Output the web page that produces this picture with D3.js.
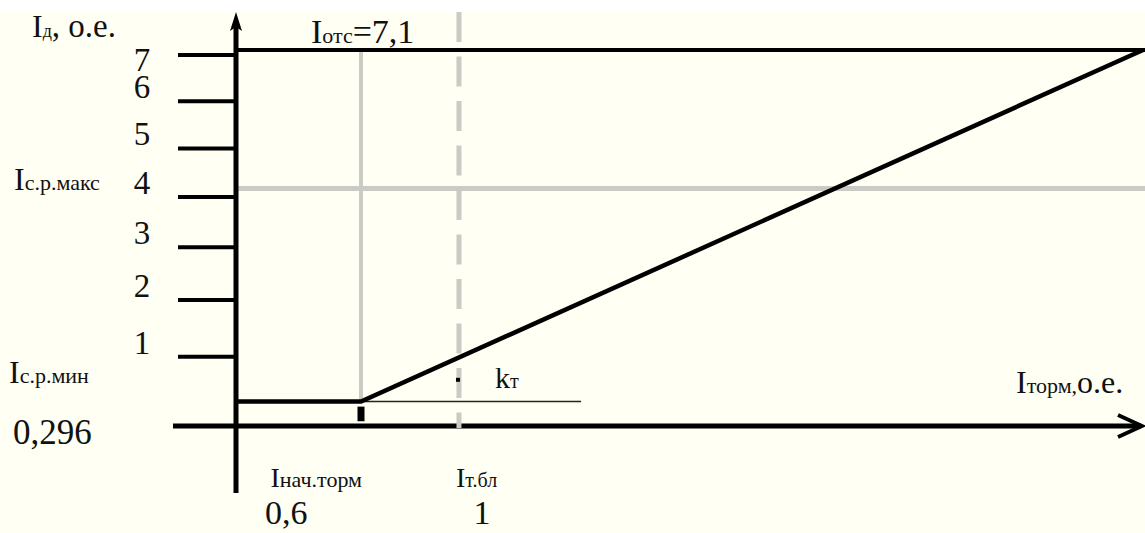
<!DOCTYPE html>
<html>
<head>
<meta charset="utf-8">
<script src="https://cdn.jsdelivr.net/npm/d3@7"></script>
<style>
  html, body { margin: 0; padding: 0; background: #ffffff; }
  svg { display: block; }
  text { font-family: "Liberation Serif", "Times New Roman", serif; fill: #111; }
</style>
</head>
<body>
<svg id="chart" width="1145" height="533"></svg>
<script>
// Braking characteristic of a differential protection: Iд versus Iторм (per unit)
const yTickValues = [1, 2, 3, 4, 5, 6, 7];
const yTickLabels = ["1", "2", "3", "4", "5", "6", "7"];
const iOts = 7.1;        // cut-off (instantaneous) current
const iSrMax = 4.16;     // maximum operate current
const iSrMin = 0.296;    // minimum operate current
const iNachTorm = 0.6;   // start of braking
const iTBl = 1;          // blocking braking current
const xEnd = 3.45;       // braking current where the slope reaches Iотс
const kRefEnd = 1.47;    // end of the horizontal reference line of the kт angle
const characteristic = [[0, iSrMin], [iNachTorm, iSrMin], [xEnd, iOts]];
const cornerDrop = [0.226, 0.044];   // short black stub under the knee
const angleMark = [iTBl, 0.62];      // dot marking the kт angle

const W = 1145, H = 533;
const svg = d3.select("#chart");

// paper background (the top strip stays white)
svg.append("rect").attr("x", 0).attr("y", 12).attr("width", W).attr("height", H - 12)
  .attr("fill", "#fffff3");

// schematic (non-uniform) scales
const x = d3.scalePow().exponent(1.133).domain([0, xEnd]).range([236, 1143]);
const y = d3.scalePow().exponent(0.86).domain([0, iOts]).range([426, 50]);

const GRAY = "#cbcbc6";
const g = svg.append("g");

// grey guide lines
g.append("line").attr("x1", x(0)).attr("x2", W).attr("y1", y(iSrMax)).attr("y2", y(iSrMax))
  .attr("stroke", GRAY).attr("stroke-width", 5);
g.append("line").attr("x1", x(iNachTorm)).attr("x2", x(iNachTorm))
  .attr("y1", y(iOts)).attr("y2", y(iSrMin))
  .attr("stroke", GRAY).attr("stroke-width", 4);

// Iотс horizontal
g.append("line").attr("x1", x(0)).attr("x2", W).attr("y1", y(iOts)).attr("y2", y(iOts))
  .attr("stroke", "#000").attr("stroke-width", 4);

// reference line for the kт angle
g.append("line").attr("x1", x(iNachTorm)).attr("x2", x(kRefEnd))
  .attr("y1", y(iSrMin)).attr("y2", y(iSrMin))
  .attr("stroke", "#222").attr("stroke-width", 1.6);

// characteristic: flat part at Iс.р.мин then the braking slope
g.append("path")
  .datum(characteristic)
  .attr("d", d3.line().x(d => x(d[0])).y(d => y(d[1])))
  .attr("fill", "none").attr("stroke", "#000").attr("stroke-width", 4.5)
  .attr("stroke-linejoin", "miter");

// stub under the knee
g.append("line").attr("x1", x(iNachTorm)).attr("x2", x(iNachTorm))
  .attr("y1", y(cornerDrop[0])).attr("y2", y(cornerDrop[1]))
  .attr("stroke", "#000").attr("stroke-width", 7);

// y axis ticks
const yAxis = d3.axisLeft(y).tickValues(yTickValues).tickSize(58)
  .tickFormat((d, i) => yTickLabels[i]);
const ya = g.append("g").attr("transform", `translate(${x(0)},0)`).call(yAxis);
ya.select(".domain").remove();
ya.selectAll(".tick line").attr("stroke", "#000").attr("stroke-width", 4);
ya.selectAll(".tick text")
  .attr("x", -94).attr("dy", null)
  .attr("y", d => d === 7 ? 16 : -3)
  .attr("text-anchor", "middle")
  .style("font-family", '"Liberation Serif", "Times New Roman", serif')
  .style("font-size", "33px").attr("fill", "#111");

// axes
g.append("line").attr("x1", x(0)).attr("x2", x(0)).attr("y1", 26).attr("y2", 493)
  .attr("stroke", "#000").attr("stroke-width", 5);
g.append("path").attr("d", `M${x(0)},12 L${x(0) + 6},31 L${x(0)},27 L${x(0) - 6},31 Z`)
  .attr("fill", "#000");
g.append("line").attr("x1", x(0) - 63).attr("x2", x(xEnd) - 2).attr("y1", y(0)).attr("y2", y(0))
  .attr("stroke", "#000").attr("stroke-width", 5);
g.append("path")
  .attr("d", `M${x(xEnd) - 25},${y(0) - 11} L${x(xEnd) - 1},${y(0)} L${x(xEnd) - 25},${y(0) + 11}`)
  .attr("fill", "none").attr("stroke", "#000").attr("stroke-width", 4);

// dashed grey line at Iт.бл (drawn over the x axis)
g.append("line").attr("x1", x(iTBl)).attr("x2", x(iTBl)).attr("y1", 12).attr("y2", y(0) + 2)
  .attr("stroke", GRAY).attr("stroke-width", 5).attr("stroke-dasharray", "30,14.5");

// angle dot
g.append("rect").attr("x", x(angleMark[0]) - 3).attr("y", y(angleMark[1]) - 2)
  .attr("width", 4).attr("height", 4).attr("fill", "#000");

// text labels made of differently sized pieces
function label(px, py, parts, anchor) {
  const t = svg.append("text").attr("x", px).attr("y", py)
    .attr("text-anchor", anchor || "start");
  parts.forEach(p => t.append("tspan").attr("font-size", p[1] + "px").text(p[0]));
  return t;
}

label(32, 37, [["I", 32], ["д", 18], [", о.е.", 33]]);
label(311, 43, [["I", 34], ["отс", 22], ["=7,1", 34]]);
label(14, 190, [["I", 32], ["с.р.макс", 22]]);
label(9, 383, [["I", 32], ["с.р.мин", 22]]);
label(13, 444, [["0,296", 35]]);
label(x(iNachTorm) + 1, 487, [["I", 28], ["нач.торм", 22]], "end");
label(x(iNachTorm) - 96, 524, [["0,6", 34]]);
label(x(iTBl) - 3, 487, [["I", 28], ["т.бл", 20]]);
label(x(iTBl) + 23, 524, [["1", 34]], "middle");
label(495, 388, [["k", 30], ["т", 20]]);
label(1016, 393, [["I", 32], ["торм,", 22], ["о.е.", 32]]);
</script>
</body>
</html>
